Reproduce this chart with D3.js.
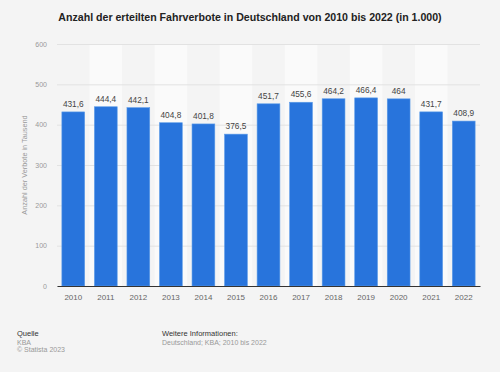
<!DOCTYPE html>
<html>
<head>
<meta charset="utf-8">
<script src="https://cdn.jsdelivr.net/npm/d3@7"></script>
<style>
  body { margin: 0; background: #f4f4f4; }
  svg { display: block; font-family: "Liberation Sans", Arial, sans-serif; }
</style>
</head>
<body>
<svg id="chart"></svg>
<script>
const years = ['2010','2011','2012','2013','2014','2015','2016','2017','2018','2019','2020','2021','2022'];
const values = [431.6, 444.4, 442.1, 404.8, 401.8, 376.5, 451.7, 455.6, 464.2, 466.4, 464, 431.7, 408.9];
const yTicks = [0, 100, 200, 300, 400, 500, 600];

const width = 500, height = 372;
const margin = {top: 44, right: 20, bottom: 86, left: 57};
const innerW = width - margin.left - margin.right;
const innerH = height - margin.top - margin.bottom;

const svg = d3.select('#chart')
    .attr('width', width)
    .attr('height', height);

svg.append('rect')
    .attr('width', width).attr('height', height)
    .attr('fill', '#f4f4f4');

svg.append('text')
    .attr('x', 250).attr('y', 21)
    .attr('text-anchor', 'middle')
    .attr('font-size', 10.6)
    .attr('font-weight', 'bold')
    .attr('fill', '#222')
    .text('Anzahl der erteilten Fahrverbote in Deutschland von 2010 bis 2022 (in 1.000)');

const chart = svg.append('g')
    .attr('transform', `translate(${margin.left}, ${margin.top})`);

const xscale = d3.scaleBand()
    .domain(years)
    .range([0, innerW])
    .paddingInner(0.3)
    .paddingOuter(0.15);

const yscale = d3.scaleLinear()
    .domain([0, 600])
    .range([innerH, 0]);

// alternating stripes
const step = innerW / years.length;
chart.selectAll('.stripe')
    .data(years.filter((d, i) => i % 2 === 1))
    .enter()
    .append('rect')
    .attr('x', d => years.indexOf(d) * step)
    .attr('y', 0)
    .attr('width', step)
    .attr('height', innerH)
    .attr('fill', '#fafafa');

// grid + y labels
const yaxis = d3.axisLeft(yscale)
    .tickValues(yTicks)
    .tickSize(-innerW)
    .tickPadding(10)
    .tickFormat(d3.format('d'));

const yg = chart.append('g').call(yaxis);
yg.select('.domain').remove();
yg.selectAll('line').attr('stroke', '#e2e2e2').attr('stroke-width', 1);
yg.selectAll('text').attr('fill', '#999').attr('font-size', 7).attr('font-family', '"Liberation Sans", Arial, sans-serif');

svg.append('text')
    .attr('transform', `translate(27, ${margin.top + innerH / 2}) rotate(-90)`)
    .attr('text-anchor', 'middle')
    .attr('font-size', 7.3)
    .attr('fill', '#999')
    .text('Anzahl der Verbote in Tausend');

// bars
chart.selectAll('.bar')
    .data(values)
    .enter()
    .append('rect')
    .attr('x', (d, i) => xscale(years[i]))
    .attr('y', d => yscale(d))
    .attr('width', xscale.bandwidth())
    .attr('height', d => innerH - yscale(d))
    .attr('fill', '#2874dc')
    .attr('stroke', '#5b9be8')
    .attr('stroke-width', 0.6);

const fmt = d => String(d).replace('.', ',');
chart.selectAll('.val')
    .data(values)
    .enter()
    .append('text')
    .attr('x', (d, i) => xscale(years[i]) + xscale.bandwidth() / 2)
    .attr('y', d => yscale(d) - 5)
    .attr('text-anchor', 'middle')
    .attr('font-size', 8.3)
    .attr('fill', '#444')
    .text(fmt);

// x axis
const xaxis = d3.axisBottom(xscale).tickSize(0).tickPadding(8);
const xg = chart.append('g')
    .attr('transform', `translate(0, ${innerH})`)
    .call(xaxis);
xg.select('.domain').attr('stroke', '#333').attr('stroke-width', 1);
xg.selectAll('text').attr('fill', '#666').attr('font-size', 8).attr('font-family', '"Liberation Sans", Arial, sans-serif');

// footer
const foot = svg.append('g').attr('font-size', 7.5);
foot.append('text').attr('x', 17).attr('y', 336).attr('fill', '#333').text('Quelle');
foot.append('text').attr('x', 17).attr('y', 344.5).attr('fill', '#999').attr('font-size', 7).text('KBA');
foot.append('text').attr('x', 17).attr('y', 352).attr('fill', '#999').attr('font-size', 7).text('© Statista 2023');
foot.append('text').attr('x', 162).attr('y', 336).attr('fill', '#333').text('Weitere Informationen:');
foot.append('text').attr('x', 162).attr('y', 344.5).attr('fill', '#999').attr('font-size', 7).text('Deutschland; KBA; 2010 bis 2022');
</script>
</body>
</html>
